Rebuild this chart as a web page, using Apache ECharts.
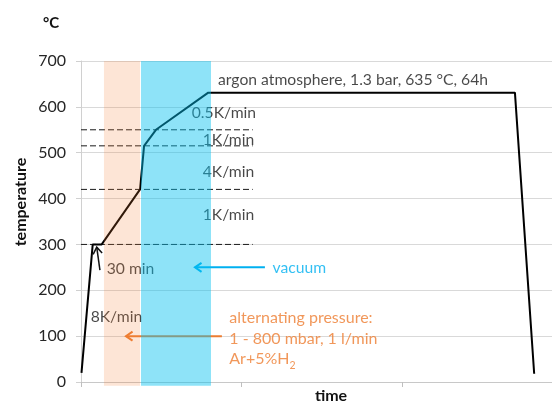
<!DOCTYPE html>
<html>
<head>
<meta charset="utf-8">
<script src="https://cdn.jsdelivr.net/npm/echarts@6/dist/echarts.min.js"></script>
<style>
html,body{margin:0;padding:0;background:#fff;}
#chart{width:552px;height:404px;}
</style>
</head>
<body>
<div id="chart"></div>
<script>
// ---- data ----
const yTickValues = [0, 100, 200, 300, 400, 500, 600, 700];
const profileTime = [0.003, 0.073, 0.129, 0.368, 0.393, 0.467, 0.793, 2.704, 2.824];
const profileTemp = [20, 300, 300, 420, 515, 550, 631, 631, 18];
const holdLevels = [300, 420, 515, 550];
const holdLineEnd = 1.07;
const pressureBand = [0.143, 0.368];
const vacuumBand = [0.374, 0.810];
const annotationTexts = ['argon atmosphere, 1.3 bar, 635 °C, 64h', '0.5K/min', '1K/min', '4K/min', '1K/min', '30 min', '8K/min'];
const annotationTime = [0.854, 0.69, 0.758, 0.758, 0.758, 0.16, 0.06];
const annotationTemp = [658, 587, 528, 459, 364, 246, 141];
const vacuumText = 'vacuum';
const vacuumTextAt = [1.194, 248];
const pressureLines = ['alternating pressure:', '1 - 800 mbar, 1 l/min', 'Ar+5%H'];
const pressureSub = '2';
const pressureTextAt = [0.924, 100];
const arrowFrom = [[0.118, 244], [1.146, 250], [0.878, 100]];
const arrowTo = [[0.098, 294], [0.71, 250], [0.28, 100]];

const FONT = 'Lato';
const chart = echarts.init(document.getElementById('chart'), null, {renderer: 'canvas'});

const profile = profileTime.map((t, i) => [t, profileTemp[i]]);
const dashSeries = holdLevels.map(v => ({
  type: 'line', z: 3, silent: true, symbol: 'none', animation: false,
  data: [[0, v], [holdLineEnd, v]],
  lineStyle: {color: '#1a1a1a', width: 1, type: [6, 3]}
}));

const arrowColors = ['#111111', '#00b0f0', '#ed7d31'];
const arrowWidths = [1.5, 2, 2];

function arrowItem(params, api) {
  const i = params.dataIndex;
  const a = api.coord([api.value(0), api.value(1)]);
  const b = api.coord([api.value(2), api.value(3)]);
  const ang = Math.atan2(b[1] - a[1], b[0] - a[0]);
  const L = 8, spread = 0.6;
  const h1 = [b[0] - L * Math.cos(ang - spread), b[1] - L * Math.sin(ang - spread)];
  const h2 = [b[0] - L * Math.cos(ang + spread), b[1] - L * Math.sin(ang + spread)];
  const st = {stroke: arrowColors[i], lineWidth: arrowWidths[i], fill: null};
  return {type: 'group', children: [
    {type: 'line', shape: {x1: a[0], y1: a[1], x2: b[0], y2: b[1]}, style: st},
    {type: 'polyline', shape: {points: [h1, b, h2]}, style: st}
  ]};
}

const bandColors = ['rgba(245,125,50,0.2)', 'rgba(4,193,239,0.45)'];
function bandItem(params, api) {
  const p0 = api.coord([api.value(0), 700]);
  const p1 = api.coord([api.value(1), -8]);
  return {type: 'rect', shape: {x: p0[0], y: p0[1], width: p1[0] - p0[0], height: p1[1] - p0[1]},
    style: {fill: bandColors[params.dataIndex]}};
}

const pressureRich = pressureLines.slice(0, 2).map(l => '{o|' + l + '}').join('\n') +
  '\n{o|' + pressureLines[2] + '}{s|' + pressureSub + '}';

const option = {
  backgroundColor: '#ffffff',
  animation: false,
  grid: {left: 81, right: 0, top: 61, bottom: 22, containLabel: false},
  xAxis: {
    type: 'value', min: 0, max: 2.935, interval: 1,
    axisLabel: {show: false},
    axisTick: {show: true, length: 5, lineStyle: {color: '#bfbfbf'}},
    axisLine: {show: true, lineStyle: {color: '#c8c8c8'}},
    splitLine: {show: false}
  },
  yAxis: {
    type: 'value', min: yTickValues[0], max: yTickValues[yTickValues.length - 1], interval: 100,
    axisLabel: {color: '#262626', fontFamily: FONT, fontSize: 16, margin: 15},
    axisTick: {show: true, length: 5, lineStyle: {color: '#d0d0d0'}},
    axisLine: {show: true, lineStyle: {color: '#d0d0d0'}},
    splitLine: {show: true, lineStyle: {color: '#d9d9d9', width: 1}}
  },
  graphic: [
    {type: 'text', left: 43, top: 16, style: {text: '°C', font: 'bold 15px ' + FONT, fill: '#111'}},
    {type: 'text', x: 21, y: 202, rotation: Math.PI / 2,
      style: {text: 'temperature', font: 'bold 16px ' + FONT, fill: '#111', align: 'center', verticalAlign: 'middle'}},
    {type: 'text', x: 331, y: 396, style: {text: 'time', font: 'bold 16px ' + FONT, fill: '#111', align: 'center', verticalAlign: 'middle'}}
  ],
  series: [
    ...dashSeries,
    {
      type: 'line', z: 4, symbol: 'none', silent: true,
      data: profile,
      lineStyle: {color: '#000000', width: 2}
    },
    {
      type: 'scatter', z: 3, symbolSize: 0, silent: true,
      data: annotationTexts.map((t, i) => ({value: [annotationTime[i], annotationTemp[i]], name: t})),
      label: {show: true, position: 'right', distance: 0, formatter: p => p.name,
        color: '#1a1a1a', fontFamily: FONT, fontSize: 15.7}
    },
    {
      type: 'scatter', z: 3, symbolSize: 0, silent: true,
      data: [{value: vacuumTextAt, name: vacuumText}],
      label: {show: true, position: 'right', distance: 0, formatter: p => p.name,
        color: '#00b0f0', fontFamily: FONT, fontSize: 15.7}
    },
    {
      type: 'scatter', z: 3, symbolSize: 0, silent: true,
      data: [{value: pressureTextAt, name: 'pressure'}],
      label: {show: true, position: 'right', distance: 0, formatter: () => pressureRich,
        align: 'left',
        rich: {
          o: {color: '#ed7d31', fontFamily: FONT, fontSize: 16, lineHeight: 20.5, verticalAlign: 'bottom'},
          s: {color: '#ed7d31', fontFamily: FONT, fontSize: 10.5, lineHeight: 20.5, verticalAlign: 'bottom', padding: [0, 0, -4, 0]}
        }}
    },
    {
      type: 'custom', z: 5, silent: true, clip: false,
      renderItem: arrowItem,
      encode: {x: [0, 2], y: [1, 3]},
      data: arrowFrom.map((f, i) => [f[0], f[1], arrowTo[i][0], arrowTo[i][1]])
    },
    {
      type: 'custom', z: 10, silent: true, clip: false,
      renderItem: bandItem,
      encode: {x: [0, 1]},
      data: [pressureBand, vacuumBand]
    }
  ]
};
chart.setOption(option);
</script>
</body>
</html>
